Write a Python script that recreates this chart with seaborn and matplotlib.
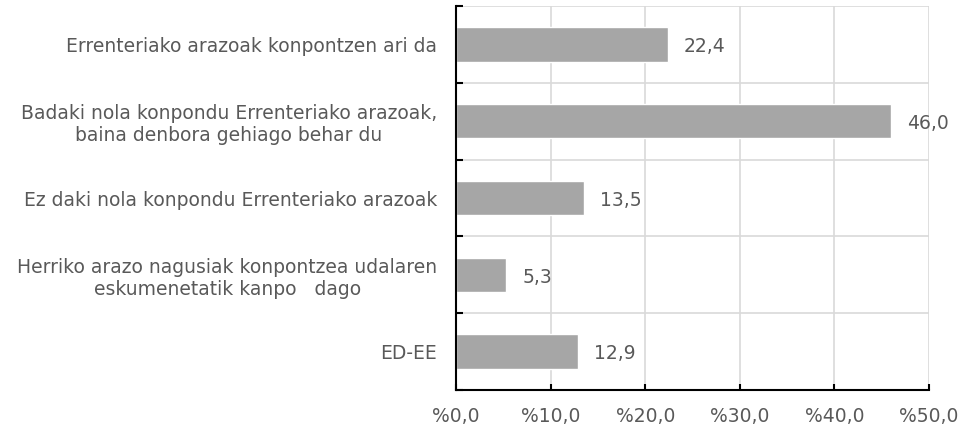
import numpy as np
import pandas as pd
import matplotlib
matplotlib.use("Agg")
import matplotlib.pyplot as plt
import seaborn as sns
from matplotlib.ticker import FixedLocator, FuncFormatter

# datuak
categories = [
    "Errenteriako arazoak konpontzen ari da",
    "Badaki nola konpondu Errenteriako arazoak,\nbaina denbora gehiago behar du",
    "Ez daki nola konpondu Errenteriako arazoak",
    "Herriko arazo nagusiak konpontzea udalaren\neskumenetatik kanpo   dago",
    "ED-EE",
]
values = [22.4, 46.0, 13.5, 5.3, 12.9]
x_ticks = [0, 10, 20, 30, 40, 50]

df = pd.DataFrame({"category": categories, "value": values})

sns.set_theme(style="white")
plt.rcParams["font.family"] = ["DejaVu Sans"]

text_color = "#595959"
grid_color = "#d9d9d9"
fs = 13.5

fig = plt.figure(figsize=(9.78, 4.29), dpi=100)
ax = fig.add_axes([456 / 978, 1 - 390 / 429, (929 - 456) / 978, (390 - 6) / 429])

sns.barplot(data=df, y="category", x="value", color="#a6a6a6",
            width=0.45, saturation=1, orient="h", ax=ax, zorder=2)

ax.set_xlim(0, 50)
ax.set_ylim(len(categories) - 0.5, -0.5)
ax.set_xlabel("")
ax.set_ylabel("")

# etiketak barren ondoan
for i, v in enumerate(values):
    ax.text(v + 1.7, i + 0.03, f"{v:.1f}".replace(".", ","), va="center",
            ha="left", fontsize=fs, color=text_color, zorder=3)

# x ardatza
ax.xaxis.set_major_locator(FixedLocator(x_ticks))
ax.xaxis.set_major_formatter(FuncFormatter(lambda v, p: f"%{v:.1f}".replace(".", ",")))
ax.tick_params(axis="x", direction="in", length=4, width=1.5, color="black",
               bottom=True, labelsize=fs, labelcolor=text_color, pad=12)
ax.grid(axis="x", color=grid_color, linewidth=1.2, zorder=0)

# y ardatza
boundaries = np.arange(-0.5, len(categories), 1.0)
ax.yaxis.set_minor_locator(FixedLocator(boundaries))
ax.tick_params(axis="y", which="major", length=0, labelsize=fs,
               labelcolor=text_color, pad=13.5)
ax.tick_params(axis="y", which="minor", direction="in", length=5, width=1.5,
               color="black", left=True)
ax.grid(axis="y", which="minor", color=grid_color, linewidth=1.2, zorder=0)
for lbl in ax.get_yticklabels():
    lbl.set_multialignment("center")

for side in ["top", "right"]:
    ax.spines[side].set_visible(False)
for side in ["left", "bottom"]:
    ax.spines[side].set_color("black")
    ax.spines[side].set_linewidth(1.5)
ax.set_axisbelow(True)

fig.savefig("out.png", dpi=100)
